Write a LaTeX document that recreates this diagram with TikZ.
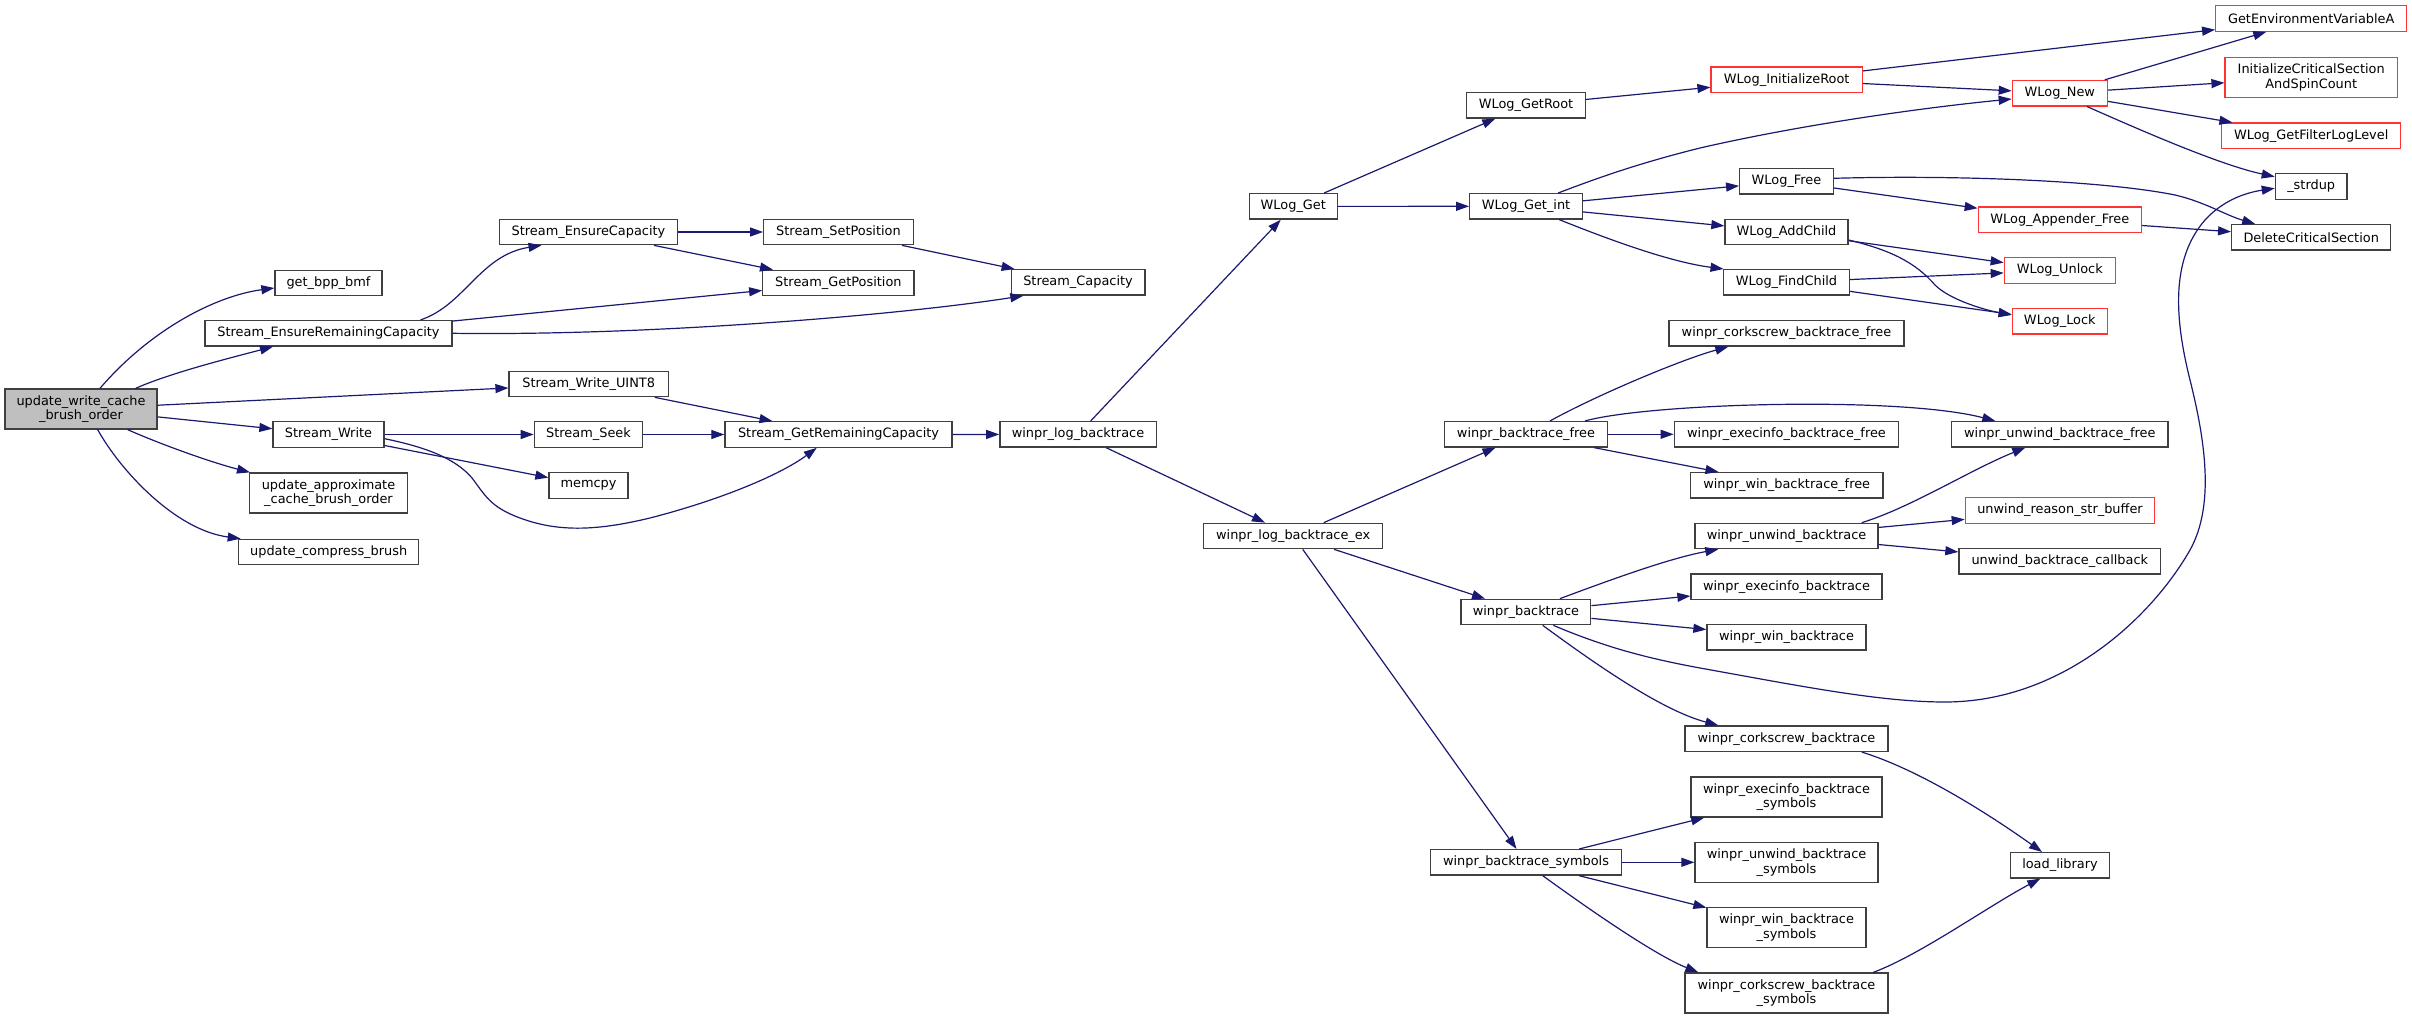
\documentclass[tikz,border=0pt]{standalone}
\usepackage{fontspec}
\setmainfont{DejaVu Sans}
\usetikzlibrary{arrows.meta}
\definecolor{edgecol}{HTML}{191970}
\definecolor{nodeborder}{HTML}{404040}
\definecolor{nodered}{HTML}{FF3333}
\definecolor{mainfill}{HTML}{BFBFBF}
\tikzset{
  fn/.style={draw=nodeborder, line width=1.3pt, fill=white, inner sep=0pt,
    minimum height=25.4pt, align=center, font=\fontsize{12.9}{14.7}\selectfont},
  fntwo/.style={fn, minimum height=40pt},
  redfn/.style={fn, draw=nodered},
  redfntwo/.style={fntwo, draw=nodered},
  edge/.style={draw=edgecol, line width=1.2pt, -{Triangle[length=13pt,width=9pt]}},
}
\begin{document}
\begin{tikzpicture}[x=1pt,y=-1pt]
\useasboundingbox (0,0) rectangle (2412,1019);

% column 1
\node[fntwo, fill=mainfill, minimum width=152pt] (main) at (81,409) {update\_write\_cache\\\_brush\_order};
% column 2
\node[fn, minimum width=107pt] (getbpp) at (328.5,283) {get\_bpp\_bmf};
\node[fn, minimum width=247pt] (serc) at (328.5,333.3) {Stream\_EnsureRemainingCapacity};
\node[fn, minimum width=111pt] (sw) at (328.5,434.5) {Stream\_Write};
\node[fntwo, minimum width=157.6pt] (uacbo) at (328.5,493) {update\_approximate\\\_cache\_brush\_order};
\node[fn, minimum width=180pt] (ucb) at (328.7,552) {update\_compress\_brush};
% column 3
\node[fn, minimum width=177.6pt] (sec) at (588.5,232) {Stream\_EnsureCapacity};
\node[fn, minimum width=159.3pt] (swu8) at (588.7,384) {Stream\_Write\_UINT8};
\node[fn, minimum width=108.4pt] (sseek) at (588.5,434.5) {Stream\_Seek};
\node[fn, minimum width=79pt] (memcpy) at (588.5,485.5) {memcpy};
% column 4
\node[fn, minimum width=149.6pt] (ssp) at (838.5,232) {Stream\_SetPosition};
\node[fn, minimum width=151.3pt] (sgp) at (838.4,283) {Stream\_GetPosition};
\node[fn, minimum width=227pt] (sgrc) at (838.5,434.5) {Stream\_GetRemainingCapacity};
% column 5
\node[fn, minimum width=133.7pt] (scap) at (1078,282.4) {Stream\_Capacity};
\node[fn, minimum width=156.3pt] (wlb) at (1078,434.4) {winpr\_log\_backtrace};
% column 6
\node[fn, minimum width=88pt] (wlget) at (1293.3,206.4) {WLog\_Get};
\node[fn, minimum width=179pt] (wlbex) at (1293.2,536) {winpr\_log\_backtrace\_ex};
% column 7
\node[fn, minimum width=118.6pt] (getroot) at (1526,105.3) {WLog\_GetRoot};
\node[fn, minimum width=112.6pt] (getint) at (1526,206.3) {WLog\_Get\_int};
\node[fn, minimum width=162.6pt] (wbf) at (1526,434.3) {winpr\_backtrace\_free};
\node[fn, minimum width=129.7pt] (wbt) at (1525.9,612) {winpr\_backtrace};
\node[fn, minimum width=190.6pt] (wbs) at (1526,862.3) {winpr\_backtrace\_symbols};
% column 8
\node[redfn, minimum width=151.3pt] (initroot) at (1786.7,79.8) {WLog\_InitializeRoot};
\node[fn, minimum width=93.6pt] (wfree) at (1786.5,181.3) {WLog\_Free};
\node[fn, minimum width=123pt] (addchild) at (1786.5,232) {WLog\_AddChild};
\node[fn, minimum width=125.6pt] (findchild) at (1786.5,282.3) {WLog\_FindChild};
\node[fn, minimum width=235pt] (wcbf) at (1786.5,333.3) {winpr\_corkscrew\_backtrace\_free};
\node[fn, minimum width=224.4pt] (webf) at (1786.5,434.3) {winpr\_execinfo\_backtrace\_free};
\node[fn, minimum width=192.7pt] (wwbf) at (1786.7,485.3) {winpr\_win\_backtrace\_free};
\node[fn, minimum width=183pt] (wub) at (1786.5,536) {winpr\_unwind\_backtrace};
\node[fn, minimum width=191pt] (web) at (1786.5,586.7) {winpr\_execinfo\_backtrace};
\node[fn, minimum width=159pt] (wwb) at (1786.5,637.3) {winpr\_win\_backtrace};
\node[fn, minimum width=203pt] (wcb) at (1786.5,738.7) {winpr\_corkscrew\_backtrace};
\node[fntwo, minimum width=191pt] (webs) at (1786.5,797) {winpr\_execinfo\_backtrace\\\_symbols};
\node[fntwo, minimum width=183pt] (wubs) at (1786.5,862.3) {winpr\_unwind\_backtrace\\\_symbols};
\node[fntwo, minimum width=159pt] (wwbs) at (1786.5,927.7) {winpr\_win\_backtrace\\\_symbols};
\node[fntwo, minimum width=203pt] (wcbs) at (1786.5,993) {winpr\_corkscrew\_backtrace\\\_symbols};
% column 9
\node[redfn, minimum width=95pt] (wnew) at (2059.8,93.2) {WLog\_New};
\node[redfn, minimum width=163pt] (wapf) at (2059.8,219.8) {WLog\_Appender\_Free};
\node[redfn, minimum width=111pt] (wunlock) at (2059.8,270.5) {WLog\_Unlock};
\node[redfn, minimum width=95pt] (wlock) at (2059.8,321.2) {WLog\_Lock};
\node[fn, minimum width=216.3pt] (wubf) at (2059.8,434.3) {winpr\_unwind\_backtrace\_free};
\node[redfn, minimum width=189.4pt] (ursb) at (2060,510.5) {unwind\_reason\_str\_buffer};
\node[fn, minimum width=201.7pt] (ubc) at (2059.8,561.3) {unwind\_backtrace\_callback};
\node[fn, minimum width=98.6pt] (loadlib) at (2060,865.3) {load\_library};
% column 10
\node[redfn, minimum width=191pt] (gev) at (2311.2,18.5) {GetEnvironmentVariableA};
\node[redfntwo, minimum width=172.3pt] (icsa) at (2311.2,77.3) {InitializeCriticalSection\\AndSpinCount};
\node[redfn, minimum width=179pt] (gfll) at (2311.2,135.8) {WLog\_GetFilterLogLevel};
\node[fn, minimum width=71.7pt] (strdup) at (2311.2,186.5) {\_strdup};
\node[fn, minimum width=159pt] (dcs) at (2311.2,237.3) {DeleteCriticalSection};

% edges from main
\draw[edge] ([xshift=19pt]main.north) .. controls (150,330) and (215,296) .. ([yshift=-5pt]getbpp.west);
\draw[edge] ([xshift=54.7pt]main.north) .. controls (170,373) and (230,358) .. ([xshift=-55.5pt]serc.south);
\draw[edge] (main) -- (swu8);
\draw[edge] (main) -- (sw);
\draw[edge] ([xshift=46.7pt]main.south) .. controls (160,444) and (210,462) .. ([xshift=-78.5pt]uacbo.north);
\draw[edge] ([xshift=16.7pt]main.south) .. controls (120,470) and (175,530) .. ([xshift=-88pt]ucb.north);

% Stream_EnsureRemainingCapacity
\draw[edge] ([xshift=92pt]serc.north) .. controls (465,305) and (480,255) .. ([xshift=-47pt]sec.south);
\draw[edge] (serc) -- (sgp);
\draw[edge] (serc.east) .. controls (650,336) and (900,315) .. ([xshift=-54.7pt]scap.south);

% Stream_EnsureCapacity
\draw[edge] (sec) -- (ssp);
\draw[edge] (sec) -- (sgp);
\draw[edge] (ssp) -- (scap);
\draw[edge] (swu8) -- (sgrc);

% Stream_Write
\draw[edge] (sw) -- (sseek);
\draw[edge] (sw) -- (memcpy);
\draw[edge] ([yshift=-4.2pt]sw.east) .. controls (425,447) and (455,458) .. (472,478)
  .. controls (485,495) and (490,507) .. (520,518)
  .. controls (560,533) and (600,530) .. (650,518)
  .. controls (720,500) and (780,475) .. ([xshift=-21.8pt]sgrc.south);
\draw[edge] (sseek) -- (sgrc);
\draw[edge] (sgrc) -- (wlb);

% winpr_log_backtrace
\draw[edge] (wlb) -- (wlget);
\draw[edge] (wlb) -- (wlbex);

% WLog_Get
\draw[edge] (wlget) -- (getroot);
\draw[edge] (wlget) -- (getint);
\draw[edge] (getroot) -- (initroot);
\draw[edge] (initroot) -- (gev);
\draw[edge] (initroot) -- (wnew);

% WLog_Get_int
\draw[edge] ([xshift=32.3pt]getint.north) .. controls (1600,177) and (1640,163) .. (1700,148)
  .. controls (1800,125) and (1920,108) .. ([yshift=-5.8pt]wnew.west);
\draw[edge] (getint) -- (wfree);
\draw[edge] (getint) -- (addchild);
\draw[edge] ([xshift=33.3pt]getint.south) .. controls (1610,240) and (1670,262) .. ([xshift=-63pt]findchild.north);

% WLog_Free
\draw[edge] ([yshift=3pt]wfree.east) .. controls (1950,175) and (2100,180) .. (2175,195)
  .. controls (2205,202) and (2225,215) .. ([xshift=-56pt]dcs.north);
\draw[edge] (wfree) -- (wapf);
\draw[edge] (wapf) -- (dcs);

% WLog_AddChild / FindChild
\draw[edge] (addchild) -- (wunlock);
\draw[edge] ([yshift=-8pt]addchild.east) .. controls (1890,250) and (1915,262) .. (1935,285)
  .. controls (1950,300) and (1985,310) .. ([yshift=6.2pt]wlock.west);
\draw[edge] (findchild) -- (wunlock);
\draw[edge] (findchild) -- (wlock);

% WLog_New
\draw[edge] (wnew) -- (gev);
\draw[edge] (wnew) -- (icsa);
\draw[edge] (wnew) -- (gfll);
\draw[edge] ([xshift=27.2pt]wnew.south) .. controls (2140,130) and (2220,165) .. ([yshift=9.8pt]strdup.west);

% winpr_backtrace_free
\draw[edge] ([xshift=24pt]wbf.north) .. controls (1595,396) and (1680,360) .. ([xshift=-58.2pt]wcbf.south);
\draw[edge] ([xshift=59pt]wbf.north) .. controls (1650,403) and (1900,396) .. ([xshift=-64.5pt]wubf.north);
\draw[edge] (wbf) -- (webf);
\draw[edge] (wbf) -- (wwbf);

% winpr_log_backtrace_ex
\draw[edge] (wlbex) -- (wbf);
\draw[edge] (wlbex) -- (wbt);
\draw[edge] (wlbex) -- (wbs);

% winpr_backtrace
\draw[edge] ([xshift=34pt]wbt.north) .. controls (1610,580) and (1670,558) .. ([xshift=-68.2pt]wub.south);
\draw[edge] (wbt) -- (web);
\draw[edge] (wbt) -- (wwb);
\draw[edge] ([xshift=27.4pt]wbt.south) .. controls (1600,645) and (1640,657) .. (1700,668)
  .. controls (1800,686) and (1880,702) .. (1945,702)
  .. controls (2060,702) and (2150,620) .. (2190,550)
  .. controls (2215,505) and (2205,440) .. (2190,380)
  .. controls (2175,320) and (2170,260) .. (2205,220)
  .. controls (2225,198) and (2250,192) .. ([yshift=-1.8pt]strdup.west);
\draw[edge] ([xshift=16.8pt]wbt.south) .. controls (1590,660) and (1660,710) .. ([xshift=-68.2pt]wcb.north);

% winpr_unwind_backtrace
\draw[edge] ([xshift=75.2pt]wub.north) .. controls (1910,508) and (1970,470) .. ([xshift=-34.5pt]wubf.south);
\draw[edge] (wub) -- (ursb);
\draw[edge] (wub) -- (ubc);

% winpr_corkscrew_backtrace
\draw[edge] ([xshift=75.2pt]wcb.south) .. controls (1920,770) and (1990,815) .. ([xshift=-18pt]loadlib.north);

% winpr_backtrace_symbols
\draw[edge] (wbs) -- (webs);
\draw[edge] (wbs) -- (wubs);
\draw[edge] (wbs) -- (wwbs);
\draw[edge] ([xshift=16.7pt]wbs.south) .. controls (1590,910) and (1655,955) .. ([xshift=-88.2pt]wcbs.north);
\draw[edge] ([xshift=86.8pt]wcbs.north) .. controls (1920,955) and (1990,905) .. ([xshift=-19.7pt]loadlib.south);
\end{tikzpicture}
\end{document}
